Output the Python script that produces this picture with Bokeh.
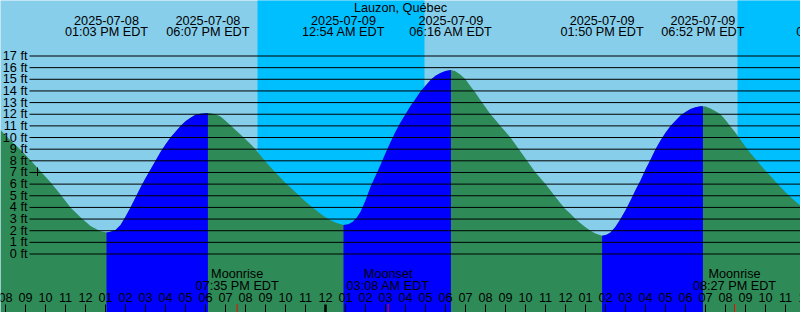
from bokeh.plotting import figure
from bokeh.models import Range1d, Label
from bokeh.embed import file_html
from bokeh.resources import INLINE
from bokeh.core.properties import value

# ---------------- data ----------------
title = "Lauzon, Québec"

# water level samples: hours since 2025-07-08 00:00 EDT, feet
tide_hours = [
    7.75, 8.25, 8.75, 9.25, 9.75, 10.25, 10.75, 11.25, 11.75, 12.25, 12.75, 13.05,
    13.25, 13.5, 13.75, 14.0, 14.25, 14.5, 14.75, 15.0, 15.25, 15.5, 15.75, 16.0,
    16.25, 16.5, 16.75, 17.0, 17.25, 17.5, 17.75, 18.12,
    18.25, 18.5, 18.75, 19.0, 19.25, 19.5, 19.75, 20.0, 20.25, 20.5, 20.75, 21.0,
    21.25, 21.5, 21.75, 22.0, 22.25, 22.5, 22.75, 23.0, 23.25, 23.5, 23.75, 24.0,
    24.25, 24.5, 24.75, 24.9,
    25.15, 25.35, 25.55, 25.75, 26.0, 26.25, 26.5, 26.75, 27.0, 27.25, 27.5, 27.75,
    28.0, 28.25, 28.5, 28.75, 29.0, 29.25, 29.5, 29.75, 30.0, 30.27,
    30.5, 30.75, 31.0, 31.25, 31.5, 31.75, 32.0, 32.25, 32.5, 32.75, 33.0, 33.25,
    33.5, 33.75, 34.0, 34.25, 34.5, 34.75, 35.0, 35.25, 35.5, 35.75, 36.0, 36.25,
    36.5, 36.75, 37.0, 37.25, 37.5, 37.75, 37.83,
    38.05, 38.25, 38.5, 38.75, 39.0, 39.25, 39.5, 39.75, 40.0, 40.25, 40.5, 40.75,
    41.0, 41.25, 41.5, 41.75, 42.0, 42.25, 42.5, 42.75, 42.87,
    43.0, 43.25, 43.5, 43.75, 44.0, 44.25, 44.5, 44.75, 45.0, 45.25, 45.5, 45.75,
    46.0, 46.25, 46.5, 46.75, 47.0, 47.25, 47.5, 47.75,
]
tide_ft = [
    10.65, 9.75, 8.95, 8.05, 7.1, 6.15, 5.1, 4.0, 3.15, 2.4, 1.95, 1.85,
    1.9, 2.05, 2.5, 3.2, 4.0, 4.85, 5.7, 6.5, 7.25, 8.0, 8.75, 9.4,
    10.0, 10.5, 11.0, 11.4, 11.7, 11.95, 12.05, 12.1,
    12.08, 12.0, 11.8, 11.45, 11.05, 10.65, 10.25, 9.85, 9.45, 9.0, 8.45, 7.95,
    7.45, 7.0, 6.55, 6.1, 5.7, 5.3, 4.9, 4.5, 4.15, 3.8, 3.45, 3.15,
    2.9, 2.7, 2.55, 2.5,
    2.56, 2.75, 3.1, 3.6, 4.6, 5.75, 6.7, 7.65, 8.65, 9.6, 10.5, 11.3,
    12.0, 12.7, 13.3, 13.95, 14.45, 14.95, 15.3, 15.55, 15.72, 15.8,
    15.7, 15.4, 15.0, 14.4, 13.85, 13.2, 12.6, 12.0, 11.5, 11.0, 10.5, 10.0,
    9.4, 8.8, 8.2, 7.6, 7.0, 6.5, 6.0, 5.45, 4.9, 4.35, 3.85, 3.45,
    3.0, 2.65, 2.3, 2.0, 1.75, 1.6, 1.57,
    1.65, 1.85, 2.35, 3.0, 3.75, 4.6, 5.5, 6.3, 7.25, 8.1, 9.0, 9.75,
    10.4, 11.0, 11.45, 11.9, 12.2, 12.45, 12.6, 12.68, 12.69,
    12.67, 12.5, 12.25, 12.0, 11.5, 10.95, 10.4, 9.8, 9.2, 8.65, 8.15, 7.65,
    7.15, 6.7, 6.2, 5.75, 5.3, 4.9, 4.5, 4.15,
]

event_hours = [13.05, 18.12, 24.90, 30.27, 37.83, 42.87, 49.62]
event_dates = ["2025-07-08", "2025-07-08", "2025-07-09", "2025-07-09",
               "2025-07-09", "2025-07-09", "2025-07-10"]
event_times = ["01:03 PM EDT", "06:07 PM EDT", "12:54 AM EDT", "06:16 AM EDT",
               "01:50 PM EDT", "06:52 PM EDT", "01:37 AM EDT"]

moon_hours = [19.583, 27.133, 44.45]
moon_names = ["Moonrise", "Moonset", "Moonrise"]
moon_times = ["07:35 PM EDT", "03:08 AM EDT", "08:27 PM EDT"]

night_start = [20.60, 44.60]
night_end = [28.95, 48.50]

ft_levels = list(range(0, 18))
hour_ticks = list(range(8, 49))
now_hour = 9.6

# ---------------- layout / style ----------------
W, H = 800, 312
T0, T1 = 7.75, 47.75
PX_PER_HOUR = W / (T1 - T0)
Y0_PX = 253.5          # pixel row of 0 ft
PX_PER_FT = 11.647
TOP = Y0_PX / PX_PER_FT
BOT = -(H - Y0_PX) / PX_PER_FT

DAY = "#87CEEB"
NIGHT = "#00BFFF"
FALL = "#2E8B57"
RISE = "#0000FF"
FONT = value("Liberation Sans")
FS = "12.7px"


def fy(px):
    return (Y0_PX - px) / PX_PER_FT


def hx(px):
    return T0 + px / PX_PER_HOUR


def label(x, y, text):
    p.add_layout(Label(x=x, y=y, text=text, text_align="center",
                       text_baseline="middle", text_font="Liberation Sans",
                       text_font_size=FS, text_color="black"))


p = figure(width=W, height=H, x_range=Range1d(T0, T1), y_range=Range1d(BOT, TOP),
           toolbar_location=None, output_backend="svg", min_border=0,
           x_axis_type=None, y_axis_type=None)
p.grid.visible = False
p.outline_line_color = None
p.background_fill_color = DAY
p.border_fill_color = DAY

# night bands
p.quad(left=night_start, right=night_end, bottom=BOT - 5, top=TOP + 5,
       fill_color=NIGHT, line_color=None)

# water: whole curve in falling colour, rising spans drawn on top
p.varea(x=tide_hours, y1=BOT - 5, y2=tide_ft, fill_color=FALL)
bounds = [tide_hours[0]] + [e for e in event_hours if tide_hours[0] < e < tide_hours[-1]] + [tide_hours[-1]]
for a, b in zip(bounds[:-1], bounds[1:]):
    idx = [i for i, h in enumerate(tide_hours) if a <= h <= b]
    xs = [tide_hours[i] for i in idx]
    ys = [tide_ft[i] for i in idx]
    if ys[-1] > ys[0]:
        p.varea(x=xs, y1=BOT - 5, y2=ys, fill_color=RISE)

# foot lines
x_line0 = hx(29)
p.segment(x0=[x_line0] * len(ft_levels), y0=ft_levels, x1=[T1 + 1] * len(ft_levels),
          y1=ft_levels, line_color="black", line_width=1)
p.text(x=[hx(27)] * len(ft_levels), y=ft_levels, text=[f"{v} ft" for v in ft_levels],
       text_align="right", text_baseline="middle", text_font=FONT,
       text_font_size=FS, text_color="black")

# now mark
p.segment(x0=[now_hour], y0=[fy(167)], x1=[now_hour], y1=[fy(175.5)],
          line_color="black", line_width=1)

# hour ticks and labels
thin = [h for h in hour_ticks if h % 24 != 0]
thick = [h for h in hour_ticks if h % 24 == 0]
p.segment(x0=thin, y0=[fy(304)] * len(thin), x1=thin, y1=[BOT - 1] * len(thin),
          line_color="black", line_width=1)
p.segment(x0=thick, y0=[fy(304)] * len(thick), x1=thick, y1=[BOT - 1] * len(thick),
          line_color="black", line_width=2.5)
p.segment(x0=moon_hours, y0=[fy(303.5)] * len(moon_hours), x1=moon_hours,
          y1=[BOT - 1] * len(moon_hours), line_color="red", line_width=1)
for h in hour_ticks:
    label(h, fy(297), f"{(h % 12) or 12:02d}")

# moon labels
for h, n, t in zip(moon_hours, moon_names, moon_times):
    label(h, fy(273.8), n)
    label(h, fy(285.5), t)

# title and event labels
label((T0 + T1) / 2, fy(7.5), title)
for h, d, t in zip(event_hours, event_dates, event_times):
    label(h, fy(19.8), d)
    label(h, fy(31.5), t)

open("out.html", "w").write(file_html(p, INLINE))
